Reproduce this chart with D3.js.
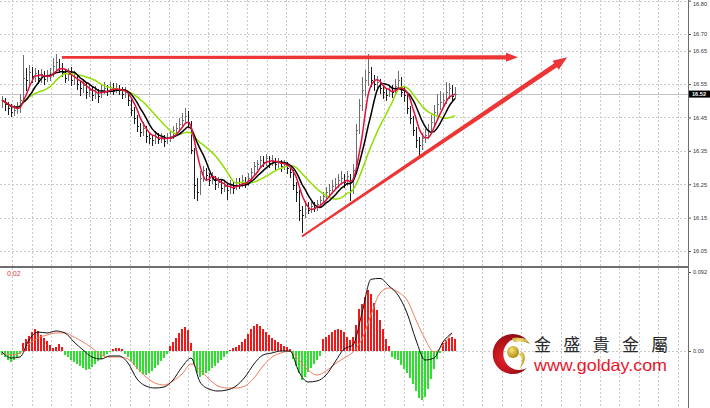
<!DOCTYPE html>
<html><head><meta charset="utf-8">
<script src="https://cdn.jsdelivr.net/npm/d3@7"></script>
<style>body{margin:0;background:#fff;overflow:hidden}svg{display:block}</style>
</head><body><svg id="c" width="710" height="408"></svg>
<script>
// ---- price bars (OHLC) ----
const opens=[16.495,16.500,16.488,16.480,16.466,16.472,16.478,16.502,16.566,16.562,16.586,16.574,16.583,16.568,16.580,16.565,16.574,16.580,16.604,16.616,
16.598,16.586,16.568,16.580,16.562,16.571,16.550,16.538,16.547,16.526,16.532,16.517,16.526,16.514,16.532,16.538,16.529,16.541,16.532,16.538,
16.532,16.520,16.526,16.502,16.472,16.448,16.424,16.406,16.418,16.394,16.388,16.382,16.394,16.385,16.391,16.379,16.388,16.394,16.412,16.418,
16.430,16.442,16.454,16.436,16.352,16.247,16.226,16.268,16.292,16.277,16.262,16.271,16.250,16.256,16.238,16.244,16.232,16.247,16.238,16.256,
16.250,16.262,16.253,16.268,16.286,16.304,16.310,16.322,16.316,16.328,16.313,16.322,16.310,16.316,16.304,16.310,16.298,16.286,16.247,16.226,
16.172,16.157,16.187,16.172,16.184,16.178,16.190,16.202,16.214,16.226,16.232,16.244,16.250,16.262,16.268,16.256,16.274,16.232,16.292,16.412,
16.487,16.532,16.562,16.586,16.562,16.550,16.556,16.538,16.526,16.517,16.532,16.526,16.544,16.562,16.526,16.517,16.478,16.448,16.412,16.382,
16.369,16.388,16.397,16.412,16.436,16.466,16.490,16.496,16.502,16.526,16.538,16.514];
const highs=[16.515,16.508,16.496,16.489,16.486,16.495,16.520,16.637,16.598,16.606,16.600,16.598,16.592,16.596,16.590,16.592,16.598,16.628,16.640,16.626,
16.612,16.596,16.598,16.600,16.588,16.578,16.560,16.566,16.556,16.548,16.540,16.544,16.536,16.550,16.555,16.548,16.556,16.552,16.552,16.548,
16.540,16.542,16.530,16.508,16.480,16.456,16.432,16.436,16.424,16.405,16.398,16.410,16.402,16.404,16.398,16.402,16.408,16.425,16.432,16.448,
16.462,16.478,16.470,16.440,16.360,16.270,16.290,16.305,16.300,16.285,16.288,16.276,16.272,16.262,16.260,16.252,16.262,16.256,16.270,16.268,
16.278,16.272,16.284,16.298,16.316,16.322,16.336,16.334,16.342,16.334,16.338,16.328,16.330,16.322,16.324,16.318,16.304,16.292,16.256,16.232,
16.186,16.200,16.196,16.198,16.196,16.204,16.216,16.228,16.242,16.250,16.262,16.270,16.282,16.290,16.280,16.290,16.280,16.310,16.430,16.505,
16.572,16.592,16.640,16.600,16.578,16.574,16.566,16.548,16.536,16.548,16.546,16.566,16.590,16.570,16.540,16.522,16.484,16.455,16.420,16.392,
16.402,16.414,16.430,16.456,16.488,16.520,16.530,16.524,16.556,16.552,16.546,16.540];
const lows=[16.478,16.470,16.458,16.452,16.455,16.460,16.462,16.498,16.530,16.548,16.552,16.556,16.550,16.554,16.548,16.556,16.560,16.572,16.590,16.584,
16.570,16.552,16.560,16.545,16.548,16.532,16.515,16.522,16.505,16.512,16.498,16.506,16.493,16.508,16.520,16.514,16.520,16.518,16.522,16.516,
16.505,16.508,16.484,16.455,16.430,16.405,16.390,16.395,16.374,16.372,16.366,16.370,16.372,16.375,16.362,16.370,16.376,16.386,16.400,16.410,
16.422,16.432,16.420,16.340,16.205,16.200,16.218,16.258,16.262,16.246,16.250,16.234,16.238,16.220,16.226,16.204,16.222,16.222,16.232,16.236,
16.242,16.238,16.246,16.258,16.278,16.292,16.300,16.302,16.306,16.298,16.304,16.294,16.298,16.288,16.292,16.282,16.268,16.232,16.196,16.140,
16.103,16.148,16.160,16.164,16.166,16.170,16.182,16.194,16.205,16.214,16.222,16.232,16.240,16.248,16.240,16.244,16.200,16.222,16.280,16.400,
16.470,16.515,16.545,16.540,16.530,16.532,16.520,16.506,16.500,16.510,16.508,16.520,16.536,16.510,16.496,16.460,16.430,16.395,16.360,16.332,
16.352,16.374,16.386,16.400,16.428,16.456,16.472,16.480,16.490,16.506,16.498,16.504];
const closes=[16.502,16.490,16.478,16.466,16.472,16.478,16.502,16.568,16.562,16.586,16.574,16.583,16.568,16.580,16.565,16.574,16.580,16.604,16.616,16.598,
16.586,16.568,16.580,16.562,16.571,16.550,16.538,16.547,16.526,16.532,16.517,16.526,16.514,16.532,16.538,16.529,16.541,16.532,16.538,16.532,
16.520,16.526,16.502,16.472,16.448,16.424,16.406,16.418,16.394,16.388,16.382,16.394,16.385,16.391,16.379,16.388,16.394,16.412,16.418,16.430,
16.442,16.454,16.436,16.352,16.247,16.226,16.268,16.292,16.277,16.262,16.271,16.250,16.256,16.238,16.244,16.232,16.247,16.238,16.256,16.250,
16.262,16.253,16.268,16.286,16.304,16.310,16.322,16.316,16.328,16.313,16.322,16.310,16.316,16.304,16.310,16.298,16.286,16.247,16.226,16.172,
16.157,16.187,16.172,16.184,16.178,16.190,16.202,16.214,16.226,16.232,16.244,16.250,16.262,16.268,16.256,16.274,16.232,16.292,16.412,16.487,
16.532,16.562,16.586,16.562,16.550,16.556,16.538,16.526,16.517,16.532,16.526,16.544,16.562,16.526,16.517,16.478,16.448,16.412,16.382,16.369,
16.388,16.397,16.412,16.436,16.466,16.490,16.496,16.502,16.526,16.538,16.514,16.520];

// ---- MACD pane ----
const histValues=[-0.0047,-0.0070,-0.0105,-0.0128,-0.0105,-0.0070,-0.0035,0.0093,0.0140,0.0175,0.0221,0.0256,0.0233,0.0186,0.0151,0.0116,0.0070,0.0035,0.0047,0.0082,
0.0047,-0.0047,-0.0070,-0.0105,-0.0128,-0.0151,-0.0175,-0.0198,-0.0221,-0.0210,-0.0186,-0.0151,-0.0116,-0.0093,-0.0058,-0.0035,-0.0012,0.0023,0.0035,0.0035,
0.0023,-0.0035,-0.0070,-0.0116,-0.0163,-0.0210,-0.0245,-0.0268,-0.0280,-0.0256,-0.0233,-0.0198,-0.0163,-0.0116,-0.0082,-0.0035,0.0058,0.0105,0.0151,0.0210,
0.0256,0.0280,0.0245,0.0093,-0.0163,-0.0256,-0.0303,-0.0280,-0.0256,-0.0233,-0.0198,-0.0175,-0.0140,-0.0105,-0.0070,-0.0035,0.0012,0.0035,0.0047,0.0070,
0.0105,0.0140,0.0198,0.0256,0.0291,0.0314,0.0291,0.0256,0.0221,0.0186,0.0151,0.0128,0.0105,0.0082,0.0058,0.0047,0.0023,-0.0093,-0.0175,-0.0256,
-0.0338,-0.0303,-0.0245,-0.0198,-0.0151,-0.0105,-0.0058,0.0140,0.0163,0.0186,0.0221,0.0245,0.0256,0.0245,0.0221,0.0163,0.0128,0.0163,0.0303,0.0489,
0.0547,0.0629,0.0710,0.0664,0.0559,0.0477,0.0361,0.0256,0.0140,0.0058,-0.0070,-0.0093,-0.0105,-0.0163,-0.0210,-0.0256,-0.0314,-0.0384,-0.0466,-0.0547,
-0.0571,-0.0536,-0.0442,-0.0326,-0.0210,-0.0093,-0.0023,0.0093,0.0128,0.0151,0.0163,0.0140];
// main and signal lines, sampled every 3rd bar (bar 0, 3, 6, ...)
const lineStep=3;
const macdMain=[-0.0012,-0.0082,-0.0070,0.0128,0.0221,0.0210,0.0233,0.0210,0.0105,0.0012,-0.0070,-0.0093,-0.0058,-0.0058,-0.0140,-0.0326,-0.0408,-0.0431,-0.0419,-0.0338,
-0.0186,-0.0082,-0.0361,-0.0443,-0.0466,-0.0454,-0.0408,-0.0303,-0.0151,-0.0047,-0.0023,0.0000,0.0000,-0.0245,-0.0361,-0.0349,-0.0280,-0.0128,0.0023,0.0070,
0.0443,0.0835,0.0845,0.0757,0.0652,0.0443,0.0128,-0.0105,-0.0082,0.0105,0.0210];
const macdSignal=[-0.0023,-0.0047,-0.0023,0.0082,0.0151,0.0186,0.0210,0.0210,0.0163,0.0105,0.0035,-0.0047,-0.0070,-0.0070,-0.0093,-0.0198,-0.0303,-0.0373,-0.0396,-0.0349,
-0.0268,-0.0151,-0.0221,-0.0326,-0.0408,-0.0431,-0.0431,-0.0408,-0.0314,-0.0175,-0.0070,-0.0023,0.0000,-0.0105,-0.0221,-0.0280,-0.0233,-0.0151,-0.0082,-0.0012,
0.0140,0.0419,0.0675,0.0734,0.0687,0.0594,0.0361,0.0140,-0.0012,0.0070,0.0210];

// ---- axes / annotations ----
const priceTicks=[16.80,16.70,16.65,16.55,16.45,16.35,16.25,16.15,16.05];
const macdTicks=[0.092,0];
const lastPrice=16.52;
const resistance={fromBar:20,toBar:172,price:16.630};
const support={fromBar:100,fromPrice:16.094,toBar:188.4,toPrice:16.630};
const maPeriods=[5,8,15];
const maColors=["#e0103c","#000000","#8fe000"];
const brandName="金盛貴金屬";
const brandUrl="www.golday.com";

const svg=d3.select("#c");
const W=710,H=408,axisX=688,sepY=267;
const x=d3.scaleLinear().domain([0,closes.length-1]).range([2,455]);
const yP=d3.scaleLinear().domain([16.05,16.70]).range([251,34]);
const yM=d3.scaleLinear().domain([0,0.092]).range([351,272]);

svg.append("rect").attr("width",W).attr("height",H).attr("fill","#fff");
const defs=svg.append("defs");
defs.append("clipPath").attr("id","cpTop").append("rect").attr("x",0).attr("y",0).attr("width",axisX).attr("height",sepY-1);
defs.append("clipPath").attr("id","cpBot").append("rect").attr("x",0).attr("y",sepY+2).attr("width",axisX).attr("height",H-sepY-2);

// grid
const grid=svg.append("g").attr("stroke","#c9c9c9").attr("stroke-dasharray","2,2").attr("shape-rendering","crispEdges");
d3.range(12,axisX-4,19.59).forEach(gx=>{
  grid.append("line").attr("x1",Math.round(gx)+0.5).attr("x2",Math.round(gx)+0.5).attr("y1",0).attr("y2",H);
});
priceTicks.forEach(p=>{
  grid.append("line").attr("x1",0).attr("x2",axisX).attr("y1",Math.round(yP(p))+0.5).attr("y2",Math.round(yP(p))+0.5);
});
grid.append("line").attr("x1",0).attr("x2",axisX).attr("y1",Math.round(yM(0))+0.5).attr("y2",Math.round(yM(0))+0.5);

// last price line
svg.append("line").attr("x1",0).attr("x2",axisX).attr("y1",Math.round(yP(lastPrice))+0.5).attr("y2",Math.round(yP(lastPrice))+0.5)
  .attr("stroke","#c4c4c4").attr("shape-rendering","crispEdges");

const topG=svg.append("g").attr("clip-path","url(#cpTop)");
// OHLC bars
const bars=topG.append("g").attr("shape-rendering","crispEdges");
closes.forEach((c,i)=>{
  const cx=Math.round(x(i))+0.5;
  const col=c>=opens[i]?"#6e6e6e":"#1c1c1c";
  const g=bars.append("g").attr("stroke",col);
  g.append("line").attr("x1",cx).attr("x2",cx).attr("y1",yP(highs[i])).attr("y2",yP(lows[i]));
  g.append("line").attr("x1",cx-1).attr("x2",cx).attr("y1",Math.round(yP(opens[i]))+0.5).attr("y2",Math.round(yP(opens[i]))+0.5);
  g.append("line").attr("x1",cx).attr("x2",cx+1.5).attr("y1",Math.round(yP(c))+0.5).attr("y2",Math.round(yP(c))+0.5);
});
// moving averages
function sma(arr,n){return arr.map((_,i)=>d3.mean(arr.slice(Math.max(0,i-n+1),i+1)));}
[2,1,0].forEach(k=>{
  const m=sma(closes,maPeriods[k]);
  topG.append("path").datum(m).attr("fill","none").attr("stroke",maColors[k]).attr("stroke-width",1.5)
    .attr("d",d3.line().x((d,i)=>x(i)).y(d=>yP(d)).curve(d3.curveMonotoneX));
});

// arrows (tapered)
function arrow(p0,p1,w0,w1,hl,hw,color){
  const dx=p1[0]-p0[0],dy=p1[1]-p0[1],len=Math.hypot(dx,dy);
  const ux=dx/len,uy=dy/len,nx=-uy,ny=ux;
  const b=[p1[0]-ux*hl,p1[1]-uy*hl];
  const pts=[[p0[0]+nx*w0/2,p0[1]+ny*w0/2],[b[0]+nx*w1/2,b[1]+ny*w1/2],[b[0]+nx*hw,b[1]+ny*hw],p1,
    [b[0]-nx*hw,b[1]-ny*hw],[b[0]-nx*w1/2,b[1]-ny*w1/2],[p0[0]-nx*w0/2,p0[1]-ny*w0/2]];
  svg.append("path").attr("d","M"+pts.map(p=>p.join(",")).join("L")+"Z").attr("fill",color);
}
arrow([x(resistance.fromBar),yP(resistance.price)],[x(resistance.toBar),yP(resistance.price)],2.6,4.2,12,4.5,"#ee3535");
arrow([x(support.fromBar),yP(support.fromPrice)],[x(support.toBar),yP(support.toPrice)],2,5,14,5.5,"#ee3535");

// separator
svg.append("rect").attr("x",0).attr("y",sepY-1).attr("width",axisX).attr("height",2).attr("fill","#6e6e6e");

// MACD pane
const botG=svg.append("g").attr("clip-path","url(#cpBot)");
botG.append("g").attr("shape-rendering","crispEdges").selectAll("rect").data(histValues).join("rect")
  .attr("x",(d,i)=>Math.round(x(i))-1).attr("width",2)
  .attr("y",d=>Math.min(yM(0),yM(d))).attr("height",d=>Math.abs(yM(d)-yM(0)))
  .attr("fill",d=>d>=0?"#f01818":"#2ee02e");
const lineGen=d3.line().x((d,i)=>x(i*lineStep)).y(d=>yM(d)).curve(d3.curveMonotoneX);
botG.append("path").datum(macdSignal).attr("fill","none").attr("stroke","#f07a5a").attr("stroke-width",1).attr("d",lineGen);
botG.append("path").datum(macdMain).attr("fill","none").attr("stroke","#111").attr("stroke-width",1).attr("d",lineGen);
svg.append("text").attr("x",7).attr("y",276).attr("fill","#e03838").attr("font-family","Liberation Sans, Arial").attr("font-size",7).text("0.02");

// right axes
svg.append("line").attr("x1",axisX+0.5).attr("x2",axisX+0.5).attr("y1",0).attr("y2",H).attr("stroke","#6e6e6e").attr("shape-rendering","crispEdges");
const ax1=svg.append("g").attr("transform",`translate(${axisX+1},0)`)
  .call(d3.axisRight(yP).tickValues(priceTicks).tickSize(2).tickPadding(2).tickFormat(d3.format(".2f")));
const ax2=svg.append("g").attr("transform",`translate(${axisX+1},0)`)
  .call(d3.axisRight(yM).tickValues(macdTicks).tickSize(2).tickPadding(2).tickFormat(d=>d===0?"0.00":d3.format(".3f")(d)));
[ax1,ax2].forEach(a=>{a.select(".domain").remove();
  a.selectAll("text").attr("font-family","Liberation Sans, Arial").attr("font-size",5.6).attr("fill","#333");
  a.selectAll("line").attr("stroke","#555");});
// keep the top label (16.80) inside the picture
ax1.selectAll(".tick").filter(d=>d===16.80).select("text").attr("y",3);
// last price tag
const tag=svg.append("g").attr("transform",`translate(${axisX+1},${yP(lastPrice)})`);
tag.append("rect").attr("x",0).attr("y",-3.5).attr("width",21).attr("height",7).attr("fill","#000");
tag.append("text").attr("x",3).attr("y",2).attr("fill","#fff").attr("font-family","Liberation Sans, Arial").attr("font-size",5.6).attr("font-weight","bold").text(d3.format(".2f")(lastPrice));

// logo
const lg=defs.append("radialGradient").attr("id","redG").attr("cx","35%").attr("cy","60%").attr("r","70%");
lg.append("stop").attr("offset","0%").attr("stop-color","#e8202a");
lg.append("stop").attr("offset","100%").attr("stop-color","#8a0a10");
const gg=defs.append("radialGradient").attr("id","goldG").attr("cx","40%").attr("cy","35%").attr("r","65%");
gg.append("stop").attr("offset","0%").attr("stop-color","#f6e47a");
gg.append("stop").attr("offset","100%").attr("stop-color","#b08a14");
const logo=svg.append("g");
logo.append("path").attr("fill","url(#redG)")
  .attr("d","M527,340 A20,20 0 1 0 527,368 A16,16 0 1 1 527,340 Z");
logo.append("path").attr("fill","url(#goldG)").attr("d","M512,338 Q525,336 530,344 Q523,340 514,342 Z");
logo.append("path").attr("fill","url(#goldG)").attr("d","M523,352 Q528,360 520,368 Q524,360 519,354 Z");
logo.append("circle").attr("cx",513).attr("cy",352).attr("r",6).attr("fill","url(#goldG)");
svg.append("text").attr("x",534).attr("y",350.5).attr("letter-spacing",12.3)
  .attr("font-family","Noto Sans CJK TC").attr("font-size",17).attr("fill","#2a2a2a").text(brandName);
svg.append("text").attr("x",534).attr("y",371).attr("textLength",133).attr("lengthAdjust","spacingAndGlyphs")
  .attr("font-family","Liberation Sans, Arial").attr("font-size",16.5).attr("fill","#e8162c").text(brandUrl);
</script></body></html>
